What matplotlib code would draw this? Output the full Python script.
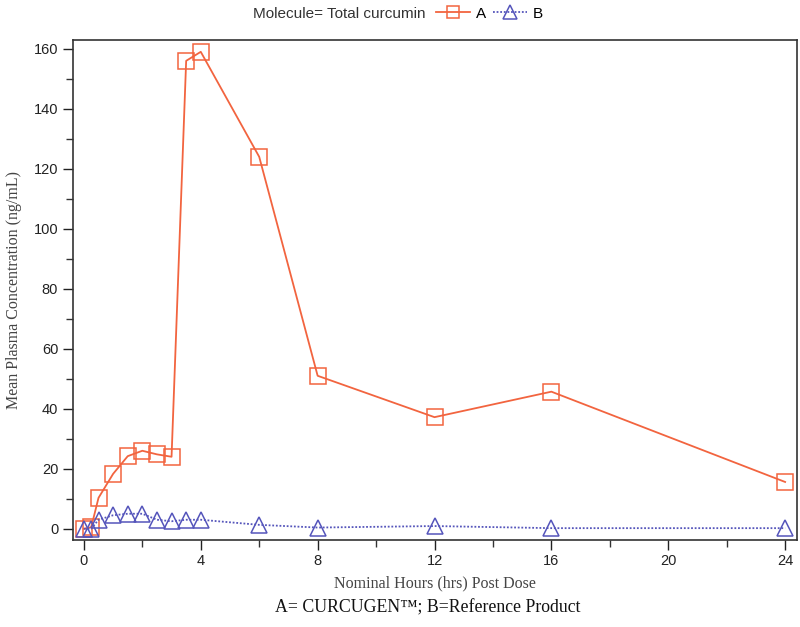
import matplotlib
matplotlib.use("Agg")
import matplotlib.pyplot as plt
from matplotlib.ticker import MultipleLocator

hours = [0, 0.25, 0.5, 1, 1.5, 2, 2.5, 3, 3.5, 4, 6, 8, 12, 16, 24]
conc_a = [0, 0.5, 10.3, 18.3, 24.2, 26.0, 24.8, 24.0, 156.0, 159.0, 124.0, 51.0, 37.2, 45.7, 15.6]
conc_b = [0, 0, 3.0, 4.5, 5.0, 5.0, 3.0, 2.5, 3.0, 3.0, 1.3, 0.4, 0.9, 0.2, 0.2]
x_ticks = [0, 4, 8, 12, 16, 20, 24]
y_ticks = [0, 20, 40, 60, 80, 100, 120, 140, 160]

col_a = "#f2643f"
col_b = "#5555bb"
sans = ["Liberation Sans", "DejaVu Sans"]
serif = ["Liberation Serif", "DejaVu Serif"]

fig = plt.figure(figsize=(8.0, 6.27), dpi=100)
ax = fig.add_axes([0.091, 0.139, 0.905, 0.797])

la, = ax.plot(hours, conc_a, color=col_a, lw=1.3, marker="s", ms=11,
              mfc="none", mec=col_a, mew=1.1, label="A")
lb, = ax.plot(hours, conc_b, color=col_b, lw=1.3, ls=(0, (1, 1)), marker="^", ms=12,
              mfc="none", mec=col_b, mew=1.1, label="B")

ax.set_xlim(-0.38, 24.4)
ax.set_ylim(-3.7, 162.9)
ax.set_xticks(x_ticks)
ax.set_yticks(y_ticks)
ax.xaxis.set_minor_locator(MultipleLocator(2))
ax.yaxis.set_minor_locator(MultipleLocator(10))
ax.tick_params(which="both", direction="out", color="#333333", width=1.0)
ax.tick_params(which="major", length=7)
ax.tick_params(which="minor", length=5)
ax.tick_params(axis="both", labelsize=10.5, colors="#222222")
for lab in ax.get_xticklabels() + ax.get_yticklabels():
    lab.set_family(sans)
for s in ax.spines.values():
    s.set_color("#333333")
    s.set_linewidth(1.2)

ax.set_xlabel("Nominal Hours (hrs) Post Dose", family=serif, fontsize=11.5,
              color="#444444", labelpad=5)
ax.set_ylabel("Mean Plasma Concentration (ng/mL)", family=serif, fontsize=11.5,
              color="#444444", labelpad=8)

fig.text(0.535, 0.031, "A= CURCUGEN\u2122; B=Reference Product", family=serif,
         fontsize=12.8, ha="center", va="center", color="#111111")

fig.text(0.316, 0.978, "Molecule= Total curcumin", family=sans, fontsize=11,
         ha="left", va="center", color="#333333")
fig.legend(handles=[la, lb], labels=["A", "B"], ncol=2, frameon=False,
           loc="center left", bbox_to_anchor=(0.545, 0.978), handlelength=2.2,
           handletextpad=0.4, columnspacing=0.5, borderpad=0, borderaxespad=0,
           prop={"family": sans, "size": 11}, markerscale=0.8)

fig.savefig("out.png", dpi=100)
